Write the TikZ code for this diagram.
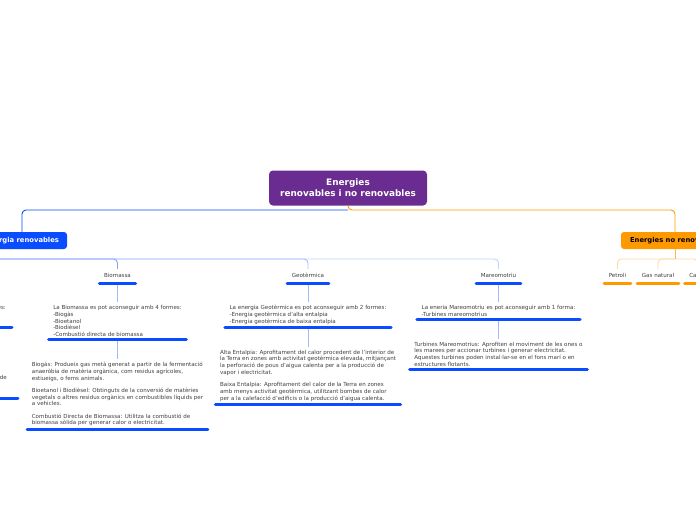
\documentclass[tikz,border=0pt]{standalone}
\usepackage{fontspec}
\setmainfont{DejaVu Sans}
\usetikzlibrary{positioning}
\definecolor{rootpurple}{HTML}{6A2C91}
\definecolor{renblue}{HTML}{0A4CFF}
\definecolor{nrenorange}{HTML}{FF9900}
\definecolor{bioline}{HTML}{86A3FF}
\definecolor{geoline}{HTML}{A9BFFF}
\definecolor{marline}{HTML}{C2D2FF}
\definecolor{twigblue}{HTML}{A3B9FF}
\definecolor{paleorange}{HTML}{FFD9A3}
\definecolor{notegray}{HTML}{404040}
\tikzset{
  rootbox/.style={rectangle, rounded corners=4pt, fill=rootpurple, text=white,
                  font=\fontsize{8.9}{11}\selectfont\bfseries, align=center,
                  minimum width=158pt, minimum height=35pt},
  mainbox/.style={rectangle, rounded corners=3pt, inner xsep=0pt,
                  font=\fontsize{6.8}{8}\selectfont\bfseries, minimum height=17pt},
  sublabel/.style={font=\fontsize{5.55}{6.8}\selectfont, text=notegray,
                   text height=4pt, text depth=1pt, inner xsep=4.5pt, inner ysep=4.5pt},
  note/.style={font=\fontsize{5.55}{6.75}\selectfont, text=notegray, align=left,
               inner xsep=4.5pt, inner ysep=3pt},
  uline/.style={line width=3pt, line cap=round, draw=renblue},
  oline/.style={uline, draw=nrenorange},
  twig/.style={draw=twigblue, line width=0.8pt},
  branch/.style={line width=0.9pt, rounded corners=4pt},
}
\begin{document}
\begin{tikzpicture}[x=1pt, y=-1pt, node distance=19pt]
  \useasboundingbox (0,0) rectangle (696,520);
  \fill[white] (0,0) rectangle (696,520);
  \clip (0,0) rectangle (696,520);

  % central topic and the two main groups
  \node[rootbox] (root) at (348,188) {Energies\\renovables i no renovables};
  \node[mainbox, fill=renblue, text=white, minimum width=90pt] (renov) at (22,240.5) {Energia renovables};
  \node[mainbox, fill=nrenorange, text=black, minimum width=108pt] (nrenov) at (675,240.5) {Energies no renovables};

  \coordinate (split) at (348,210);
  \draw[branch, renblue] (split) -| (renov.north);
  \draw[branch, nrenorange] (root.south) -- (split) -| (nrenov.north);

  % renewable sources
  \node[sublabel] (biolbl) at (117.5,276) {Biomassa};
  \node[sublabel] (geolbl) at (308,276) {Geotèrmica};
  \node[sublabel] (marlbl) at (498.5,276) {Mareomotriu};

  \coordinate (renhub) at (-40,259);
  \draw[branch, marline] (renhub) -| (marlbl.north);
  \draw[branch, geoline] (renhub) -| (geolbl.north);
  \draw[branch, bioline] (renhub) -| (biolbl.north);

  \node[note, below=of biolbl] (biotxt) {La Biomassa es pot aconseguir amb 4 formes:\\-Biogàs\\-Bioetanol\\-Biodièsel\\-Combustió directa de biomassa};
  \node[note, below=of biotxt] (biodet) {Biogàs: Produeix gas metà generat a partir de la fermentació\\anaeròbia de matèria orgànica, com residus agrícoles,\\estiueigs, o fems animals.\\[5.6pt]Bioetanol i Biodièsel: Obtinguts de la conversió de matèries\\vegetals o altres residus orgànics en combustibles líquids per\\a vehicles.\\[5.6pt]Combustió Directa de Biomassa: Utilitza la combustió de\\biomassa sòlida per generar calor o electricitat.};

  \node[note, below=of geolbl] (geotxt) {La energia Geotèrmica es pot aconseguir amb 2 formes:\\-Energia geotèrmica d'alta entalpia\\-Energia geotèrmica de baixa entalpia};
  \node[note, below=of geotxt] (geodet) {Alta Entalpia: Aprofitament del calor procedent de l'interior de\\la Terra en zones amb activitat geotèrmica elevada, mitjançant\\la perforació de pous d'aigua calenta per a la producció de\\vapor i electricitat.\\[5.6pt]Baixa Entalpia: Aprofitament del calor de la Terra en zones\\amb menys activitat geotèrmica, utilitzant bombes de calor\\per a la calefacció d'edificis o la producció d'aigua calenta.};

  \node[note, below=of marlbl] (martxt) {La eneria Mareomotriu es pot aconseguir amb 1 forma:\\-Turbines mareomotrius};
  \node[note, below=of martxt] (mardet) {Turbines Mareomotrius: Aprofiten el moviment de les ones o\\les marees per accionar turbines i generar electricitat.\\Aquestes turbines poden instal·lar-se en el fons marí o en\\estructures flotants.};

  \draw[twig] (biolbl.south) -- (biotxt.north);
  \draw[twig] (biotxt.south) -- (biodet.north);
  \draw[twig] (geolbl.south) -- (geotxt.north);
  \draw[twig] (geotxt.south) -- (geodet.north);
  \draw[twig] (marlbl.south) -- (martxt.north);
  \draw[twig] (martxt.south) -- (mardet.north);

  \foreach \n in {biolbl, biotxt, biodet, geolbl, geotxt, geodet, marlbl, martxt, mardet}
    \draw[uline] (\n.south west) -- (\n.south east);

  % cut-off column on the left edge
  \node[note, anchor=base east] (solfrag) at (10.5,309) {es:};
  \node[note, anchor=base east] (soldet) at (11.5,379) {de};
  \draw[uline] (-10,327) -- (12,327);
  \draw[uline] (-10,398) -- (18,398);

  % non-renewable sources
  \node[sublabel] (petlbl) at (617.5,276) {Petroli};
  \node[sublabel] (gaslbl) at (658,276) {Gas natural};
  \node[sublabel] (carlbl) at (697.5,276) {Carbó};

  \coordinate (nrenhub) at (675,259);
  \draw[branch, paleorange] (nrenhub) -| (carlbl.north);
  \draw[branch, paleorange] (nrenhub) -| (petlbl.north);
  \draw[branch, paleorange] (nrenhub) -| (gaslbl.north);
  \draw[line width=0.9pt, nrenorange!70] (nrenov.south) -- (nrenhub);

  \foreach \n in {petlbl, gaslbl, carlbl}
    \draw[oline] (\n.south west) -- (\n.south east);
\end{tikzpicture}
\end{document}
